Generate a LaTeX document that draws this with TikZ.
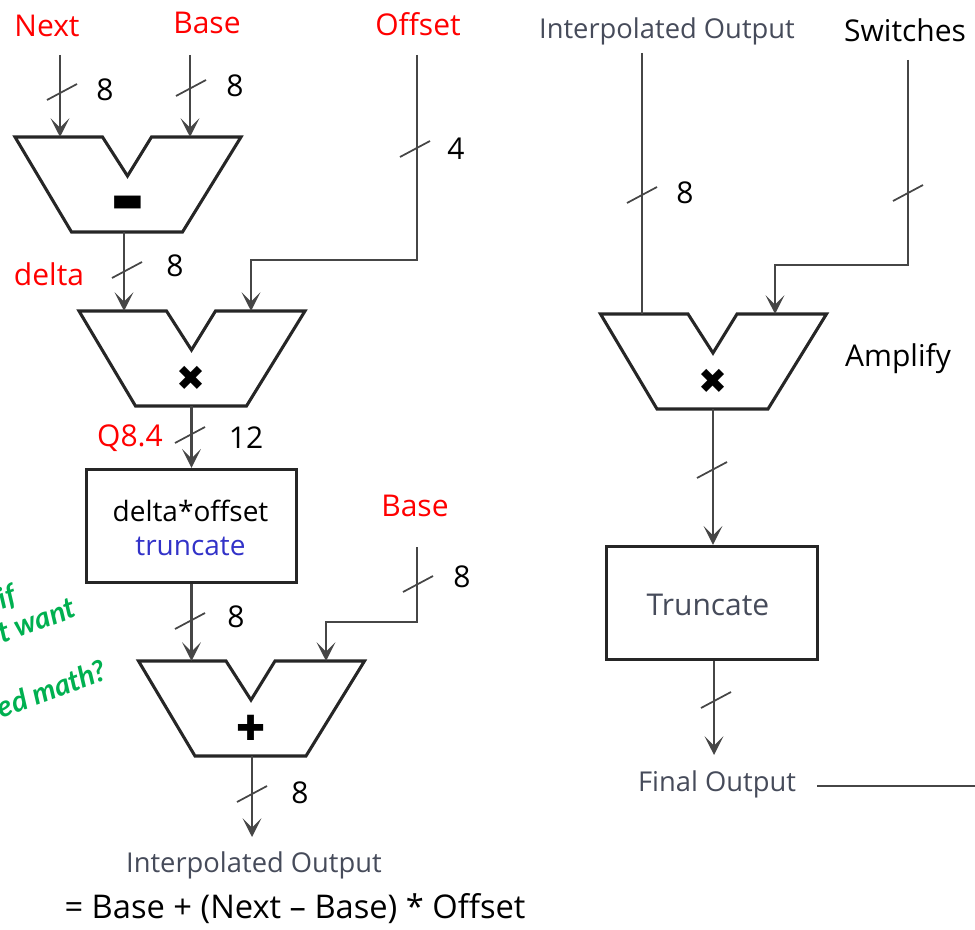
\documentclass[tikz,border=0pt]{standalone}
\usepackage{fontspec}
\setmainfont{Open Sans}
\newfontfamily\symbfont{DejaVu Sans}
\newfontfamily\handfont{Lato}
\usetikzlibrary{calc,
	positioning,
	arrows.meta}
\definecolor{wiregray}{RGB}{70,70,70}
\definecolor{printgray}{RGB}{70,75,90}
\definecolor{handgreen}{RGB}{0,176,80}
\definecolor{truncblue}{RGB}{50,50,200}
\tikzset{
	>={Stealth[length=14pt,width=14pt,inset=7pt]},
	wire/.style={draw=wiregray,line width=2.2pt},
	slash/.style={draw=wiregray,line width=1.3pt},
	txt/.style={font=\fontsize{22.5}{26}\selectfont,inner sep=0pt},
	boxtxt/.style={font=\fontsize{21}{24}\selectfont,inner sep=0pt},
	redtxt/.style={txt,text=red},
	graytxt/.style={font=\fontsize{20.5}{24}\selectfont,inner sep=0pt,text=printgray},
	handtxt/.style={font=\handfont\bfseries\itshape\fontsize{22}{26}\selectfont,inner sep=0pt,text=handgreen,rotate=20,anchor=west},
	blockbox/.style={draw=black!85,line width=2.3pt,inner sep=0pt,align=center,minimum width=158pt,minimum height=85pt},
	alu/.pic={
		\draw[black!85,line width=2.3pt,line join=miter] (-112.5,0) -- (-25,0) -- (0,39) -- (24,0) -- (113.5,0) -- (55,95) -- (-56,95) -- cycle;
		\coordinate (-top) at (0,0);
		\coordinate (-bot) at (0,95);
		\node[font=\symbfont\fontsize{26}{30}\selectfont,inner sep=0pt] (-sym) at (0,67) {\tikzpictext};
	}
}

\begin{document}
\begin{tikzpicture}[x=0.75pt,y=-0.75pt]
	\clip (0,0) rectangle (975,930);
	\useasboundingbox (0,0) rectangle (975,930);

	% left path
	\pic[pic text={▬}] (aluA) at (127.5,137) {alu};
	\pic[pic text={✖}] (aluB) at (191.5,311) {alu};
	\pic[pic text={✚}] (aluC) at (251,661) {alu};
	\node[blockbox] (boxA) at (191.5,526) {};
	\node[boxtxt] (boxAtop) at (190.5,511) {delta*offset};
	\node[boxtxt,text=truncblue] (boxAbot) at (190.5,546) {truncate};

	\node[redtxt] (lblNext) at (47,26) {Next};
	\node[redtxt] (lblBase) at (207,23) {Base};
	\node[redtxt] (lblOffset) at (418,24) {Offset};
	\node[redtxt] (lblDelta) at (49,274) {delta};
	\node[redtxt] (lblQ) at (130,438) {Q8.4};
	\node[redtxt] (lblBaseB) at (415,506) {Base};
	\node[graytxt] (lblInterp) at (254,865) {Interpolated Output};
	\node[txt,font=\fontsize{24.5}{28}\selectfont] (lblEq) at (295,909) {= Base + (Next – Base) * Offset};

	\coordinate (inNext) at (60,55);
	\coordinate (inBase) at (190,55);
	\coordinate (inOffset) at (417,55);
	\coordinate (turnOffset) at (417,260);
	\coordinate (dropOffset) at (251,260);
	\coordinate (inBaseB) at (417,547);
	\coordinate (turnBaseB) at (417,622);
	\coordinate (dropBaseB) at (326,622);
	\coordinate (outDelta) at (124,232);
	\coordinate (outFinal) at (252,837);

	\draw[wire,->] (inNext) -- (inNext |- aluA-top);
	\draw[wire,->] (inBase) -- (inBase |- aluA-top);
	\draw[wire,->] (outDelta) -- (outDelta |- aluB-top);
	\draw[wire,->] (inOffset) -- (turnOffset) -- (dropOffset) -- (dropOffset |- aluB-top);
	\draw[wire,->] (aluB-bot) -- (boxA.north);
	\draw[wire,->] (boxA.south) -- (boxA.south |- aluC-top);
	\draw[wire,->] (inBaseB) -- (turnBaseB) -- (dropBaseB) -- (dropBaseB |- aluC-top);
	\draw[wire,->] (outFinal |- aluC-bot) -- (outFinal);

	% right path
	\pic[pic text={✖}] (aluD) at (713,314) {alu};
	\node[blockbox] (boxB) at (712,603) {};
	\node[txt,text=printgray] (boxBtxt) at (708,605) {Truncate};

	\node[graytxt] (lblInterpB) at (667,31) {Interpolated Output};
	\node[txt] (lblSwitches) at (905,30) {Switches};
	\node[txt] (lblAmplify) at (898,359) {Amplify};
	\node[graytxt] (lblFinal) at (717,784) {Final Output};

	\coordinate (inInterp) at (642,53);
	\coordinate (inSwitches) at (908,60);
	\coordinate (turnSwitches) at (908,265);
	\coordinate (dropSwitches) at (775,265);
	\coordinate (outFinalB) at (714,755);
	\coordinate (lineEnd) at (975,786);

	\draw[wire] (inInterp) -- (inInterp |- aluD-top);
	\draw[wire,->] (inSwitches) -- (turnSwitches) -- (dropSwitches) -- (dropSwitches |- aluD-top);
	\draw[wire,->] (aluD-bot) -- (boxB.north -| aluD-bot);
	\draw[wire,->] (outFinalB |- boxB.south) -- (outFinalB);
	\draw[wire] (lblFinal.east |- lineEnd) ++(21,0) -- (lineEnd);

	% bus widths
	\foreach \x/\y in {62/92,191/88,415/149,127/270,190/435,190/621,418/584,252/794,642/195,908/193,712/470,716/700} {
		\draw[slash] (\x-15,\y+8) -- (\x+15,\y-8);
	}
	\foreach \x/\y/\w [count=\idx] in {105/90/8,235/86/8,456/149/4,175/266/8,246/438/12,236/617/8,462/577/8,300/793/8,685/193/8} {
		\node[txt] (lblWidth\idx) at (\x,\y) {\w};
	}

	% margin note
	\node[handtxt] (noteA) at (-1,601) {if};
	\node[handtxt] (noteB) at (-8,636) {it want};
	\node[handtxt] (noteC) at (-2,708) {ed math?};
\end{tikzpicture}
\end{document}
